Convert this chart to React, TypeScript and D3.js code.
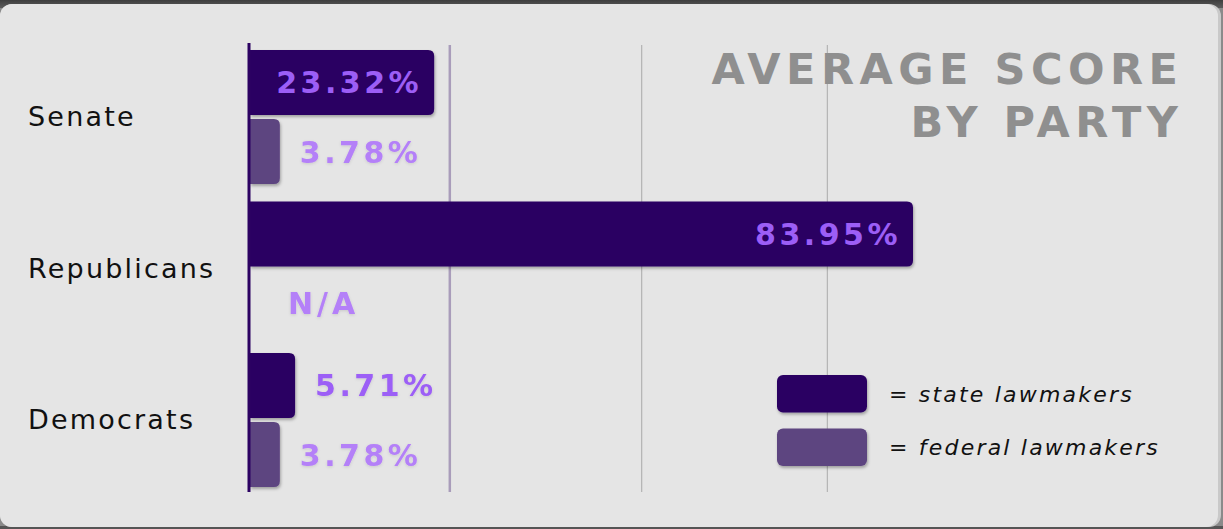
import React from "react";
import * as d3 from "d3";

const categories = ["Senate", "Republicans", "Democrats"];
const seriesKeys = ["state", "federal"];
const seriesLabels = ["= state lawmakers", "= federal lawmakers"];
const stateValues: (number | null)[] = [23.32, 83.95, 5.71];
const federalValues: (number | null)[] = [3.78, null, 3.78];
const gridValues = [25.3, 49.6, 73.1];
const titleLines = ["AVERAGE SCORE", "BY PARTY"];

const W = 1223;
const H = 529;
const colors: Record<string, string> = { state: "#2c0262", federal: "#5d4480" };
const labelColors: Record<string, string> = { state: "#9c5ef6", federal: "#b480f8" };

function barPath(x0: number, y: number, x1: number, h: number, r: number) {
  const rr = Math.min(r, (x1 - x0) / 2, h / 2);
  return `M${x0},${y}H${x1 - rr}Q${x1},${y} ${x1},${y + rr}V${y + h - rr}Q${x1},${y + h} ${x1 - rr},${y + h}H${x0}Z`;
}

export default function App() {
  const x = d3.scaleLinear().domain([0, 83.95]).range([250, 913]);
  const y = d3.scaleBand<string>().domain(categories).range([50, 487]).paddingInner(0.115);
  const ySub = d3.scaleBand<string>().domain(seriesKeys).range([0, y.bandwidth()]).paddingInner(0.06);
  const legendY = d3.scaleBand<string>().domain(seriesKeys).range([375, 466]).paddingInner(0.3);

  const valueFont = "'DejaVu Sans', sans-serif";
  const rows = categories.map((c, i) => ({ cat: c, state: stateValues[i], federal: federalValues[i] }));

  return (
    <svg width={W} height={H} style={{ position: "absolute", left: 0, top: 0, display: "block" }}>
      <defs>
        <filter id="sh" x="-10%" y="-10%" width="130%" height="140%">
          <feDropShadow dx="1" dy="2" stdDeviation="1.5" floodColor="#000" floodOpacity="0.3" />
        </filter>
        <filter id="glow" x="-10%" y="-20%" width="120%" height="150%">
          <feDropShadow dx="0" dy="1" stdDeviation="1.5" floodColor="#000" floodOpacity="0.12" />
        </filter>
        <linearGradient id="topg" x1="0" y1="0" x2="0" y2="1">
          <stop offset="0" stopColor="#3e3e3e" />
          <stop offset="1" stopColor="#5c5c5c" />
        </linearGradient>
      </defs>
      <rect x={0} y={0} width={W} height={H} fill="#8a8a8a" />
      <rect x={0} y={0} width={W} height={8} fill="url(#topg)" />
      <rect x={0} y={H - 3} width={W} height={3} fill="#555" />
      <rect x={0} y={4} width={1221} height={523} rx={12} fill="#c9c9c9" />
      <rect x={0} y={4} width={1218} height={523} rx={12} fill="#e5e5e5" />

      {/* grid lines */}
      {gridValues.map((g, i) => (
        <line
          key={i}
          x1={x(g)}
          x2={x(g)}
          y1={45}
          y2={492}
          stroke={i === 0 ? "#a99cba" : "#aaaaaa"}
          strokeWidth={i === 0 ? 2.5 : 1}
        />
      ))}

      {/* title */}
      {titleLines.map((t, i) => (
        <text
          key={t}
          x={1178 + 5.5}
          y={84 + i * 53}
          textAnchor="end"
          fontFamily={valueFont}
          fontWeight="bold"
          fontSize={43}
          letterSpacing={5.5}
          fill="#8f8f8f"
        >
          {t}
        </text>
      ))}

      {/* category labels */}
      {categories.map((c) => (
        <text
          key={c}
          x={28}
          y={(y(c) as number) + y.bandwidth() / 2 + 9}
          fontFamily={valueFont}
          fontSize={27}
          letterSpacing={2.2}
          fill="#111"
        >
          {c}
        </text>
      ))}

      {/* bars */}
      {rows.map((r) =>
        seriesKeys.map((k) => {
          const v = (r as any)[k] as number | null;
          const by = (y(r.cat) as number) + (ySub(k) as number);
          const bh = ySub.bandwidth();
          const cy = by + bh / 2;
          if (v == null) {
            return (
              <text
                key={r.cat + k}
                x={x(0) + 38}
                y={cy + 11}
                fontFamily={valueFont}
                fontWeight="bold"
                fontSize={30}
                letterSpacing={4}
                fill={labelColors.federal}
                filter="url(#glow)"
              >
                N/A
              </text>
            );
          }
          const x1 = x(v);
          const inside = x1 - x(0) > 150;
          return (
            <g key={r.cat + k}>
              <path d={barPath(x(0), by, x1, bh, 6)} fill={colors[k]} filter="url(#sh)" />
              <text
                x={inside ? x1 - 16 + 4 : x1 + 20}
                y={cy + 11}
                textAnchor={inside ? "end" : "start"}
                fontFamily={valueFont}
                fontWeight="bold"
                fontSize={30}
                letterSpacing={3.5}
                fill={labelColors[k]}
                filter={inside ? undefined : "url(#glow)"}
              >
                {v.toFixed(2) + "%"}
              </text>
            </g>
          );
        })
      )}

      {/* axis */}
      <line x1={x(0) - 1} x2={x(0) - 1} y1={43} y2={492} stroke="#2c0262" strokeWidth={3} />

      {/* legend */}
      {seriesKeys.map((k, i) => (
        <g key={k}>
          <rect
            x={777}
            y={legendY(k) as number}
            width={90}
            height={legendY.bandwidth()}
            rx={6}
            fill={colors[k]}
            filter="url(#sh)"
          />
          <text
            x={889}
            y={(legendY(k) as number) + legendY.bandwidth() / 2 + 8}
            fontFamily={valueFont}
            fontStyle="italic"
            fontSize={22}
            letterSpacing={2.2}
            fill="#111"
          >
            {seriesLabels[i]}
          </text>
        </g>
      ))}
    </svg>
  );
}
